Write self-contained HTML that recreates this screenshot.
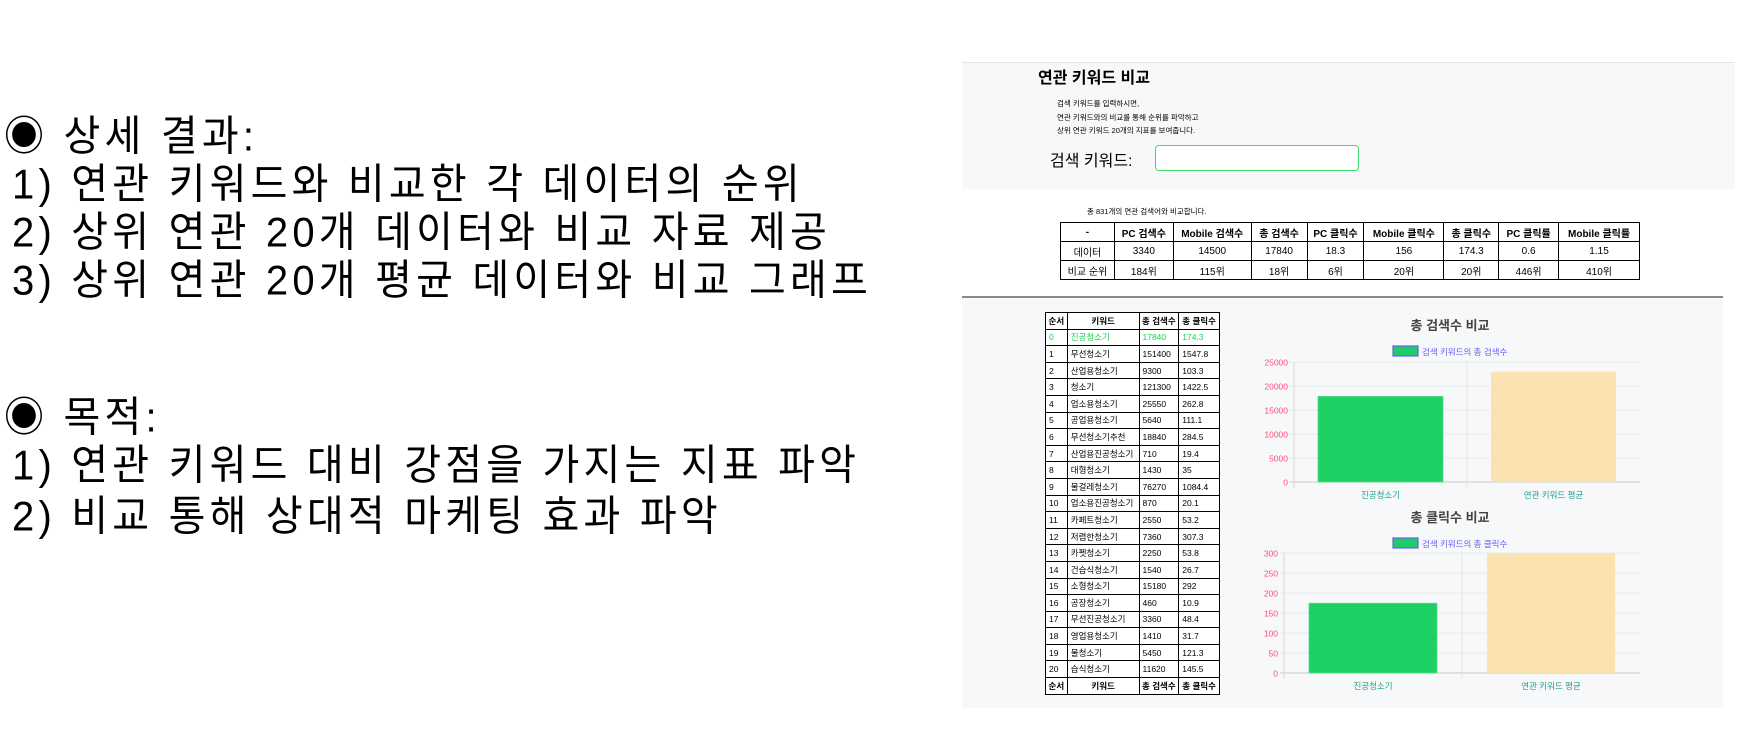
<!DOCTYPE html>
<html><head><meta charset="utf-8">
<style>
body{margin:0;width:1748px;height:730px;background:#fff;position:relative;overflow:hidden;font-family:"Liberation Sans","Noto Sans CJK KR",sans-serif;color:#000}
.abs{position:absolute;white-space:nowrap}
.big{font-size:40px;letter-spacing:4.2px;line-height:48px;transform:scaleY(1.05)}
#panel{left:962px;top:62px;width:773px;height:126px;background:#f7f8fa;border-top:1px solid #e2e4e6}
#lower{left:962px;top:296px;width:761px;height:410px;background:#f7f8fa;border-top:2px solid #8a8a8a}
table{border-collapse:collapse}
#cmp td{border:1px solid #000;text-align:center;font-size:10px;height:18px;padding:0}
#kw td{border:1px solid #000;font-size:8.5px;height:15.6px;padding:0 0 0 3px}
</style></head><body>
<div class="abs big" style="left:4px;top:113px">◉ 상세 결과:</div>
<div class="abs big" style="left:12px;top:161px">1) 연관 키워드와 비교한 각 데이터의 순위</div>
<div class="abs big" style="left:12px;top:209px">2) 상위 연관 20개 데이터와 비교 자료 제공</div>
<div class="abs big" style="left:12px;top:257px">3) 상위 연관 20개 평균 데이터와 비교 그래프</div>
<div class="abs big" style="left:4px;top:394px">◉ 목적:</div>
<div class="abs big" style="left:12px;top:442px">1) 연관 키워드 대비 강점을 가지는 지표 파악</div>
<div class="abs big" style="left:12px;top:493px">2) 비교 통해 상대적 마케팅 효과 파악</div>

<div class="abs" id="panel"></div>
<div class="abs" style="left:1038px;top:64px;font-size:16px;font-weight:bold">연관 키워드 비교</div>
<div class="abs" style="left:1057px;top:97px;font-size:7.5px;line-height:13.5px">검색 키워드를 입력하시면,<br>연관 키워드와의 비교를 통해 순위를 파악하고<br>상위 연관 키워드 20개의 지표를 보여줍니다.</div>
<div class="abs" style="left:1050px;top:147px;font-size:16px">검색 키워드:</div>
<div class="abs" style="left:1155px;top:145px;width:202px;height:24px;border:1px solid #3ddc6e;border-radius:4px;background:#fff"></div>

<div class="abs" style="left:1087px;top:206px;font-size:7.5px">총 831개의 연관 검색어와 비교합니다.</div>
<table class="abs" id="cmp" style="left:1060px;top:222px;width:580px;border:1.5px solid #000">
<colgroup><col style="width:54px"><col style="width:59px"><col style="width:78px"><col style="width:56px"><col style="width:57px"><col style="width:80px"><col style="width:55px"><col style="width:60px"><col style="width:81px"></colgroup>
<tr style="font-weight:bold"><td>-</td><td>PC 검색수</td><td>Mobile 검색수</td><td>총 검색수</td><td>PC 클릭수</td><td>Mobile 클릭수</td><td>총 클릭수</td><td>PC 클릭률</td><td>Mobile 클릭률</td></tr>
<tr><td>데이터</td><td>3340</td><td>14500</td><td>17840</td><td>18.3</td><td>156</td><td>174.3</td><td>0.6</td><td>1.15</td></tr>
<tr><td>비교 순위</td><td>184위</td><td>115위</td><td>18위</td><td>6위</td><td>20위</td><td>20위</td><td>446위</td><td>410위</td></tr>
</table>

<div class="abs" id="lower"></div>
<table class="abs" id="kw" style="left:1045px;top:312px;width:175px;background:#fff;border:1px solid #000">
<colgroup><col style="width:22px"><col style="width:72px"><col style="width:40px"><col style="width:41px"></colgroup>
<tbody id="kwbody"></tbody></table>

<svg class="abs" id="charts" style="left:1240px;top:300px" width="508" height="410"></svg>

<script>
const kwIdx=[0,1,2,3,4,5,6,7,8,9,10,11,12,13,14,15,16,17,18,19,20];
const kwNames=["진공청소기","무선청소기","산업용청소기","청소기","업소용청소기","공업용청소기","무선청소기추천","산업용진공청소기","대형청소기","물걸레청소기","업소용진공청소기","카페트청소기","저렴한청소기","카펫청소기","건습식청소기","소형청소기","공장청소기","무선진공청소기","영업용청소기","물청소기","습식청소기"];
const kwSearch=[17840,151400,9300,121300,25550,5640,18840,710,1430,76270,870,2550,7360,2250,1540,15180,460,3360,1410,5450,11620];
const kwClick=[174.3,1547.8,103.3,1422.5,262.8,111.1,284.5,19.4,35,1084.4,20.1,53.2,307.3,53.8,26.7,292,10.9,48.4,31.7,121.3,145.5];
const kwHead=["순서","키워드","총 검색수","총 클릭수"];

const categories=["진공청소기","연관 키워드 평균"];
const searchValues=[17840,23000];
const clickValues=[174.3,300];
const searchTicks=[0,5000,10000,15000,20000,25000];
const clickTicks=[0,50,100,150,200,250,300];

const tb=document.getElementById('kwbody');
function headRow(){
  const tr=document.createElement('tr');
  
  
  kwHead.forEach((h,i)=>{const td=document.createElement('td');td.textContent=h;td.style.fontWeight='bold';td.style.textAlign='center';td.style.padding='0';tr.appendChild(td);});
  tb.appendChild(tr);
}
headRow();
kwIdx.forEach((n,i)=>{
  const tr=document.createElement('tr');
  
  
  if(i===0)tr.style.color='#1ccf4e';
  [n,kwNames[i],kwSearch[i],kwClick[i]].forEach(v=>{const td=document.createElement('td');td.textContent=v;tr.appendChild(td);});
  tb.appendChild(tr);
});
headRow();

const NS='http://www.w3.org/2000/svg';
const svg=document.getElementById('charts');
function el(tag,attrs,txt){const e=document.createElementNS(NS,tag);for(const k in attrs)e.setAttribute(k,attrs[k]);if(txt!==undefined)e.textContent=txt;svg.appendChild(e);return e;}
const F='Liberation Sans, Noto Sans CJK KR, sans-serif';
function chart(oy,title,legend,values,ticks,x0,yTop,yBot,bars){
  const x1=400,max=ticks[ticks.length-1];
  const y=v=>yBot-(Math.min(v,max)/max)*(yBot-yTop);
  const t=el('text',{x:210,y:oy+30,'text-anchor':'middle','font-size':13,'font-weight':'bold',fill:'#444','font-family':F},title);
  
  
  const lb=el('rect',{x:153,y:oy+46,width:25,height:10,fill:'#1dce64',stroke:'#6a5cf0','stroke-width':1.2});
  
  
  const lt=el('text',{x:182,y:oy+55,'font-size':8.5,fill:'#6a5cf0','font-family':F},legend);
  
  
  ticks.forEach(tv=>{
    const gy=y(tv);
    el('line',{x1:x0-4,x2:x1,y1:gy,y2:gy,stroke:tv===0?'#c8c8c8':'#e9eaec','stroke-width':1});
    const tl=el('text',{x:x0-6,y:gy+3.5,'text-anchor':'end','font-size':8.5,fill:'#ff4d78','font-family':F},tv);
    
    
  });
  const mid=(x0+x1)/2;
  el('line',{x1:x0,x2:x0,y1:yTop,y2:yBot+6,stroke:'#d8d8d8'});
  el('line',{x1:mid,x2:mid,y1:yTop,y2:yBot+6,stroke:'#e4e4e4'});
  const colors=['#1ecf64','#fae3b0'];
  const bw=bars;
  values.forEach((v,i)=>{
    const cx=x0+(x1-x0)*(i+0.5)/values.length;
    const r=el('rect',{x:cx-bw/2,y:y(v),width:bw,height:yBot-y(v),fill:colors[i],stroke:i===0?'#55dd88':'none','stroke-width':0.8});
    
    
    const c=el('text',{x:cx,y:yBot+16,'text-anchor':'middle','font-size':8.5,fill:'#1aa08a','font-family':F},categories[i]);
    
    
  });
}
chart(0,'총 검색수 비교','검색 키워드의 총 검색수',searchValues,searchTicks,54,62,182,125);
chart(192,'총 클릭수 비교','검색 키워드의 총 클릭수',clickValues,clickTicks,44,253,373,128);
</script>
</body></html>
